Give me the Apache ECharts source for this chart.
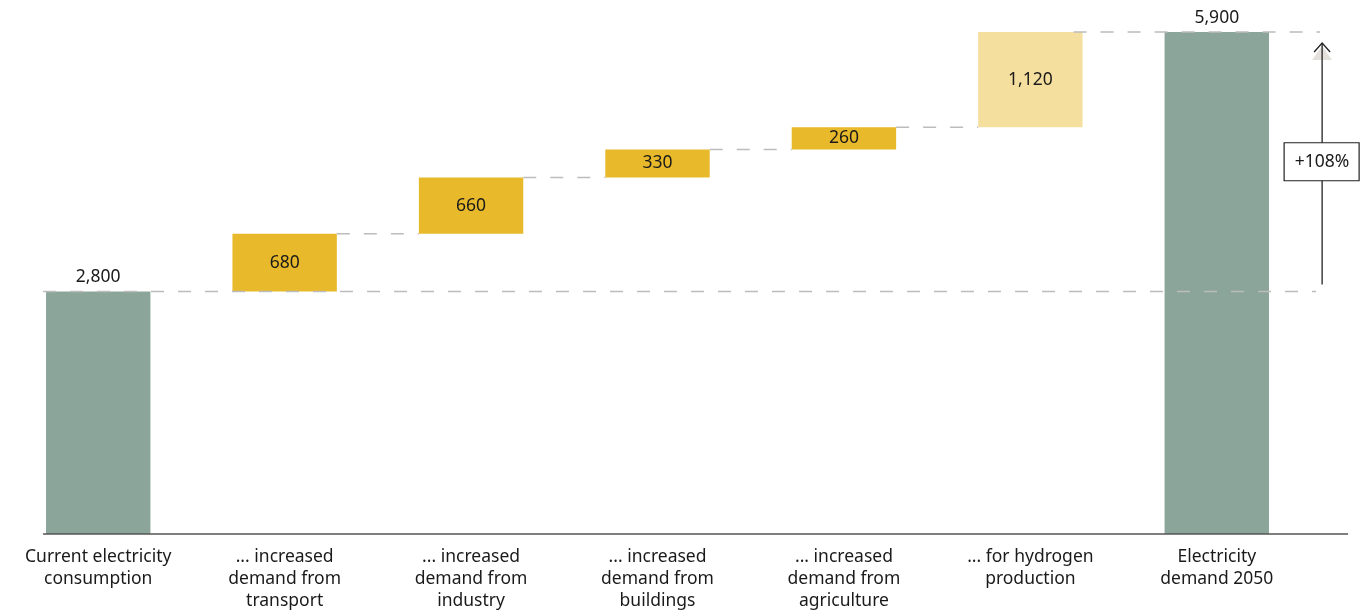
<!DOCTYPE html>
<html>
<head>
<meta charset="utf-8">
<script src="https://cdn.jsdelivr.net/npm/echarts@6/dist/echarts.min.js"></script>
<style>html,body{margin:0;padding:0;background:#fff;}#c{width:1365px;height:612px;}</style>
</head>
<body>
<div id="c"></div>
<script>
var categories = [
  'Current electricity\nconsumption',
  '... increased\ndemand from\ntransport',
  '... increased\ndemand from\nindustry',
  '... increased\ndemand from\nbuildings',
  '... increased\ndemand from\nagriculture',
  '... for hydrogen\nproduction',
  'Electricity\ndemand 2050'
];
// bar heights (first and last are totals)
var values = [2850, 680, 660, 330, 260, 1120, 5900];
var valueLabels = ['2,800', '680', '660', '330', '260', '1,120', '5,900'];
var kinds = ['total', 'step', 'step', 'step', 'step', 'light', 'total'];
var changeLabel = '+108%';

var FONT = 'Noto Sans';
var FS = 17.5;
var TXT = '#1a1a1a';
var colors = { total: '#8ba59b', step: '#e8b92a', light: '#f5df9f' };

// invisible base for the floating steps
var base = [];
var run = 0;
for (var i = 0; i < values.length; i++) {
  if (kinds[i] === 'total') { base.push(0); run = values[i]; }
  else { base.push(run); run += values[i]; }
}

// connectors: [fromIndex, toIndex, level]
var connectors = [];
for (var j = 1; j < values.length - 2; j++) {
  connectors.push([j, j + 1, base[j] + values[j]]);
}
var startTotal = values[0];
var endTotal = values[values.length - 1];

var BAR_FRAC = 0.56;

var chart = echarts.init(document.getElementById('c'));
chart.setOption({
  animation: false,
  grid: { left: 5, right: 55, top: 32, bottom: 77, containLabel: false },
  xAxis: {
    type: 'category',
    data: categories,
    axisLine: { show: false },
    axisTick: { show: false },
    axisLabel: {
      interval: 0, fontFamily: FONT, fontSize: FS, lineHeight: 22,
      color: TXT, margin: 12, align: 'center'
    }
  },
  yAxis: { type: 'value', min: 0, max: 5900, show: false, splitLine: { show: false } },
  series: [
    {
      type: 'custom',
      z: 1,
      clip: false,
      silent: true,
      data: [[0]],
      renderItem: function (params, api) {
        var band = api.size([1, 0])[0];
        var half = band * BAR_FRAC / 2;
        var n = categories.length;
        var arrowX = api.coord([n - 1, 0])[0] + band * 0.565;
        var dash = { stroke: '#bcbcbc', lineWidth: 1.5, lineDash: [13, 14] };
        var els = [];
        var yS = api.coord([0, startTotal])[1];
        var x0 = api.coord([0, 0])[0] - half - 3;
        els.push({ type: 'line', shape: { x1: x0, y1: yS, x2: arrowX - 6, y2: yS }, style: dash });
        var yE = api.coord([0, endTotal])[1];
        var xe = api.coord([n - 2, 0])[0] + half - 9;
        els.push({ type: 'line', shape: { x1: xe, y1: yE, x2: arrowX - 2, y2: yE }, style: dash });
        connectors.forEach(function (c) {
          var y = api.coord([0, c[2]])[1];
          var xa = api.coord([c[0], 0])[0] + half;
          var xb = api.coord([c[1], 0])[0] - half;
          els.push({ type: 'line', shape: { x1: xa, y1: y, x2: xb, y2: y }, style: dash });
        });
        var y0 = api.coord([0, 0])[1];
        els.push({ type: 'line', shape: { x1: x0, y1: y0, x2: arrowX + 26, y2: y0 }, style: { stroke: '#555', lineWidth: 1.5 } });
        var top = yE + 11;
        els.push({ type: 'polygon', shape: { points: [[arrowX, top + 3], [arrowX - 10, top + 17], [arrowX + 10, top + 17]] }, style: { fill: '#e4e1dc' } });
        els.push({ type: 'line', shape: { x1: arrowX, y1: yS - 7, x2: arrowX, y2: top }, style: { stroke: '#222', lineWidth: 1.3 } });
        els.push({ type: 'polyline', shape: { points: [[arrowX - 8, top + 9], [arrowX, top], [arrowX + 8, top + 9]] }, style: { stroke: '#222', lineWidth: 1.3, fill: null } });
        var yM = api.coord([0, (startTotal + endTotal) / 2])[1];
        els.push({ type: 'rect', shape: { x: arrowX - 38, y: yM - 19, width: 75, height: 38 }, style: { fill: '#fff', stroke: '#222', lineWidth: 1.2 } });
        els.push({ type: 'text', x: arrowX, y: yM, style: { text: changeLabel, fontFamily: FONT, fontSize: FS, fill: TXT, align: 'center', verticalAlign: 'middle' } });
        return { type: 'group', children: els };
      }
    },
    {
      type: 'bar', stack: 'w', silent: true, barWidth: (BAR_FRAC * 100) + '%',
      itemStyle: { color: 'transparent' },
      data: base
    },
    {
      type: 'bar', stack: 'w', silent: true, barWidth: (BAR_FRAC * 100) + '%',
      z: 0,
      data: values.map(function (v, i) {
        var isTotal = kinds[i] === 'total';
        return {
          value: v,
          itemStyle: { color: colors[kinds[i]] },
          label: {
            show: true,
            position: isTotal ? 'top' : 'inside',
            distance: 5,
            formatter: valueLabels[i],
            fontFamily: FONT, fontSize: FS, color: TXT
          }
        };
      })
    }
  ]
});
</script>
</body>
</html>
